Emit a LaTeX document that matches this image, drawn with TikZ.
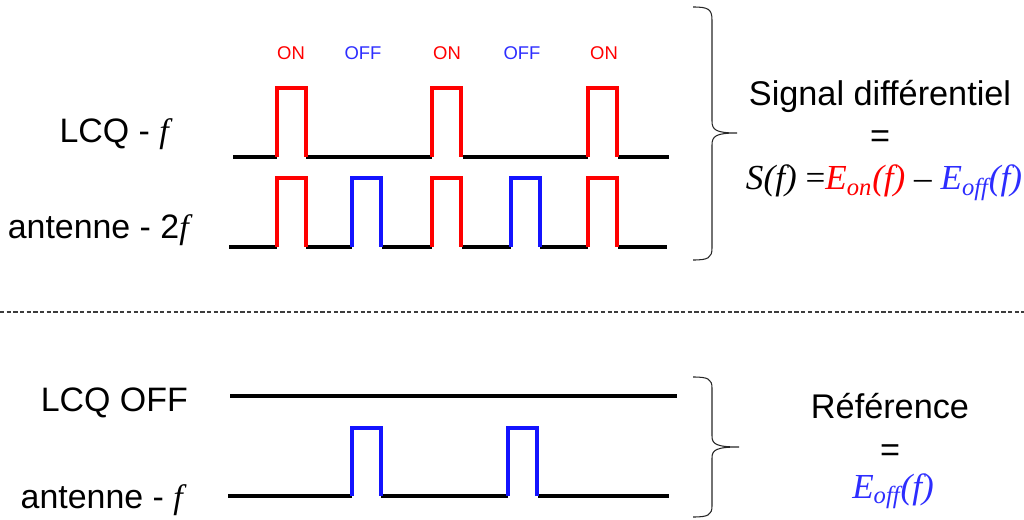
\documentclass[tikz,border=0pt]{standalone}
\usepackage{xcolor}
\usepackage{fontspec}
\setmainfont{Liberation Sans}
\newfontfamily\seriffont{Liberation Serif}
\usepackage{tikz}
\definecolor{onred}{RGB}{255,0,0}
\definecolor{offblue}{RGB}{20,20,255}
\definecolor{offtext}{RGB}{45,45,255}
\definecolor{sepgray}{RGB}{60,60,60}

\begin{document}
\begin{tikzpicture}[
    x=0.02cm, y=-0.02cm,
    base/.style={line width=1.8pt, black},
    pulse/.style={line width=1.8pt, draw=#1},
    tag/.style={font=\fontsize{10.5}{12}\selectfont, text=#1, anchor=base},
    label/.style={font=\fontsize{19.3}{23}\selectfont, anchor=base east},
    result/.style={font=\fontsize{19.5}{23}\selectfont, anchor=base},
    brace/.style={line width=0.6pt, black!85}
]
\useasboundingbox (0,0) rectangle (1024,520);

% ON / OFF tags above the pulses
\node[tag=onred] (on1) at (291,60) {ON};
\node[tag=offtext] (off1) at (363,60) {OFF};
\node[tag=onred] (on2) at (447,60) {ON};
\node[tag=offtext] (off2) at (522,60) {OFF};
\node[tag=onred] (on3) at (604,60) {ON};

% Signal names on left
\node[label] (lcqf) at (175,143) {LCQ - {\seriffont\itshape f}};
\node[label] (ant2f) at (195,238) {antenne - 2{\seriffont\itshape f}};
\node[label] (lcqoff) at (194,411) {LCQ OFF};
\node[label] (antf) at (189,508) {antenne - {\seriffont\itshape f}};

% LCQ - f trace
\foreach \a/\b in {233/277, 306/432, 463/588, 618/669}
    \draw[base] (\a,157) -- (\b,157);
\foreach \x in {277, 432, 588}
    \draw[pulse=onred] (\x,157) -- (\x,88) -- (\x+29,88) -- (\x+29,157);

% antenne - 2f trace
\foreach \a/\b in {229/277, 306/352, 382/432, 462/511, 540/588, 618/667}
    \draw[base] (\a,247) -- (\b,247);
\foreach \x/\c in {277/onred, 352/offblue, 432/onred, 511/offblue, 588/onred}
    \draw[pulse=\c] (\x,247) -- (\x,178) -- (\x+29,178) -- (\x+29,247);

% separation
\draw[sepgray, line width=0.6pt, dash pattern=on 2.4pt off 1.4pt] (0,312) -- (1024,312);

% LCQ OFF trace
\draw[base] (230,396) -- (677,396);

% antenne - f trace
\foreach \a/\b in {228/352, 381/508, 538/669}
    \draw[base] (\a,496) -- (\b,496);
\foreach \x in {352, 508}
    \draw[pulse=offblue] (\x,496) -- (\x,428) -- (\x+29,428) -- (\x+29,496);

% Braces
\draw[brace] (693,7) .. controls (708,7) and (712,9) .. (712,20) -- (712,121)
    .. controls (712,130) and (716,133) .. (737,133)
    .. controls (716,133) and (712,136) .. (712,145) -- (712,248)
    .. controls (712,258) and (708,260) .. (693,260);
\draw[brace] (693,377) .. controls (708,377) and (712,379) .. (712,388) -- (712,436)
    .. controls (712,444) and (716,447) .. (739,447)
    .. controls (716,447) and (712,450) .. (712,458) -- (712,506)
    .. controls (712,515) and (708,517) .. (693,517);

% Results on right
\node[result] (diff) at (880,106) {Signal différentiel};
\node[result] (eq1) at (880,148) {=};
\node[result, font=\fontsize{20}{24}\selectfont\seriffont] (sf) at (884,190)
    {\itshape S(f) \upshape=\itshape\textcolor{onred}{E\textsubscript{on}(f)} \upshape– \itshape\textcolor{offtext}{E\textsubscript{off}(f)}};

\node[result] (ref) at (890,418) {Référence};
\node[result] (eq2) at (890,461) {=};
\node[result, font=\fontsize{20}{24}\selectfont\seriffont\itshape, text=offtext] (eoff) at (893,498)
    {E\textsubscript{off}(f)};

\end{tikzpicture}
\end{document}
